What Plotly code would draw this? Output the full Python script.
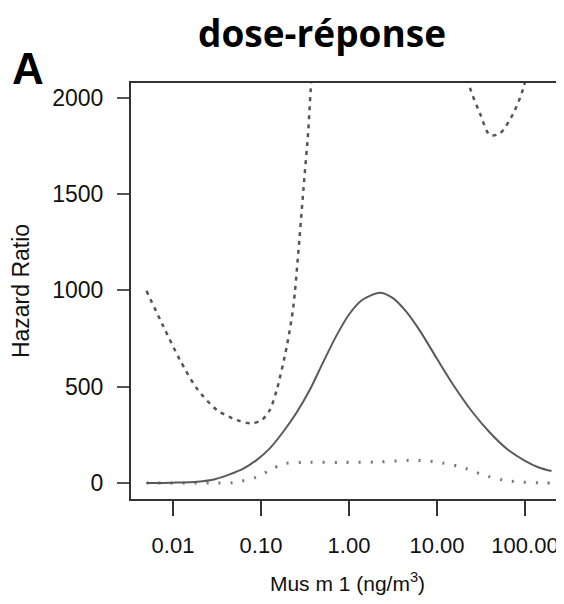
import plotly.graph_objects as go

# Data
hr_x = [0.005, 0.01, 0.019, 0.03, 0.044, 0.063, 0.089, 0.126, 0.178, 0.251, 0.355, 0.50, 0.71, 1.0, 1.41, 2.24,
        3.16, 4.47, 6.3, 10, 15.8, 25.1, 39.8, 63, 100, 141, 200]
hr_y = [0, 2, 7, 20, 45, 75, 119, 180, 265, 362, 480, 620, 760, 875, 950, 988,
        960, 890, 795, 645, 500, 370, 262, 175, 115, 82, 62]

upper_x = [0.005, 0.0078, 0.012, 0.0186, 0.0316, 0.053, 0.078, 0.102, 0.126, 0.151, 0.196, 0.233, 0.265, 0.303, 0.345, 0.367,
           0.42, 1.0, 5.0, 15.0, 20.0, 24.0, 30.8, 39.8, 52.0, 73.6, 95.5, 120.0, 192.0]
upper_y = [998, 812, 639, 492, 379, 327, 310, 327, 379, 483, 708, 915, 1193, 1521, 1833, 2040,
           2400, 3500, 3500, 2500, 2200, 2044, 1919, 1807, 1816, 1919, 2049, 2250, 2700]

lower_x = [0.005, 0.026, 0.048, 0.089, 0.126, 0.179, 0.30, 0.79, 2.07, 5.4, 9.9, 18.2, 33.6, 61.7, 162, 192]
lower_y = [0, 0, 2, 30, 67, 99, 107, 107, 109, 118, 109, 85, 42, 12, 0, 0]

x_ticks = [0.01, 0.1, 1, 10, 100]
x_tick_labels = ["0.01", "0.10", "1.00", "10.00", "100.00"]
y_ticks = [0, 500, 1000, 1500, 2000]

# page body has an 8px margin; figure is sized to fill the rest of the window
OFF = 8
W, H = 564 - OFF, 604 - OFF - 8
PL, PT, PR, PB = 131, 83, 564, 499  # plot box in window pixels

fig = go.Figure()
fig.add_trace(go.Scatter(x=upper_x, y=upper_y, mode="lines",
                         line=dict(color="#555555", width=2.5, dash="4px,5px", shape="spline", smoothing=0.8),
                         showlegend=False))
fig.add_trace(go.Scatter(x=lower_x, y=lower_y, mode="lines",
                         line=dict(color="#777777", width=3, dash="2px,10px", shape="spline", smoothing=0.8),
                         showlegend=False))
fig.add_trace(go.Scatter(x=hr_x, y=hr_y, mode="lines",
                         line=dict(color="#5a5a5a", width=2, shape="spline", smoothing=0.8),
                         showlegend=False))

FAM = "Liberation Sans, Arial, sans-serif"

pw = PR - PL
ph = PB - PT

def px(xw):
    return (xw - PL) / pw

def py(yw):
    return (PB - yw) / ph

fig.update_layout(
    width=W, height=H,
    margin=dict(l=PL - OFF, r=W - (PR - OFF), t=PT - OFF, b=H - (PB - OFF)),
    paper_bgcolor="white", plot_bgcolor="white",
    showlegend=False,
    xaxis=dict(
        type="log", range=[-2.477, 2.443],
        tickvals=x_ticks, ticktext=x_tick_labels,
        ticks="outside", ticklen=15, tickwidth=2, tickcolor="#333333",
        showline=True, linecolor="#333333", linewidth=2, mirror=True,
        showgrid=False, zeroline=False,
        tickfont=dict(family=FAM, size=22, color="#111111"), ticklabelstandoff=11,
        title=dict(text="Mus m 1 (ng/m<sup>3</sup>)", font=dict(family=FAM, size=21, color="#111111"), standoff=19),
    ),
    yaxis=dict(
        range=[-83, 2077],
        tickvals=y_ticks,
        ticks="outside", ticklen=12, tickwidth=2, tickcolor="#555555",
        showline=True, linecolor="#333333", linewidth=2,
        showgrid=False, zeroline=False,
        tickfont=dict(family=FAM, size=23, color="#111111"), ticklabelstandoff=9,
        title=dict(text="Hazard Ratio", font=dict(family=FAM, size=23, color="#111111"), standoff=17),
    ),
    annotations=[
        dict(text="<b>dose-réponse</b>", xref="paper", yref="paper", x=px(322), y=py(32),
             xanchor="center", yanchor="middle", showarrow=False,
             font=dict(family="Open Sans, Noto Sans, sans-serif", size=37, color="black")),
        dict(text="<b>A</b>", xref="paper", yref="paper", x=px(10), y=py(68),
             xanchor="left", yanchor="middle", showarrow=False,
             font=dict(family=FAM, size=44, color="black")),
    ],
)

fig.write_html("out.html")
